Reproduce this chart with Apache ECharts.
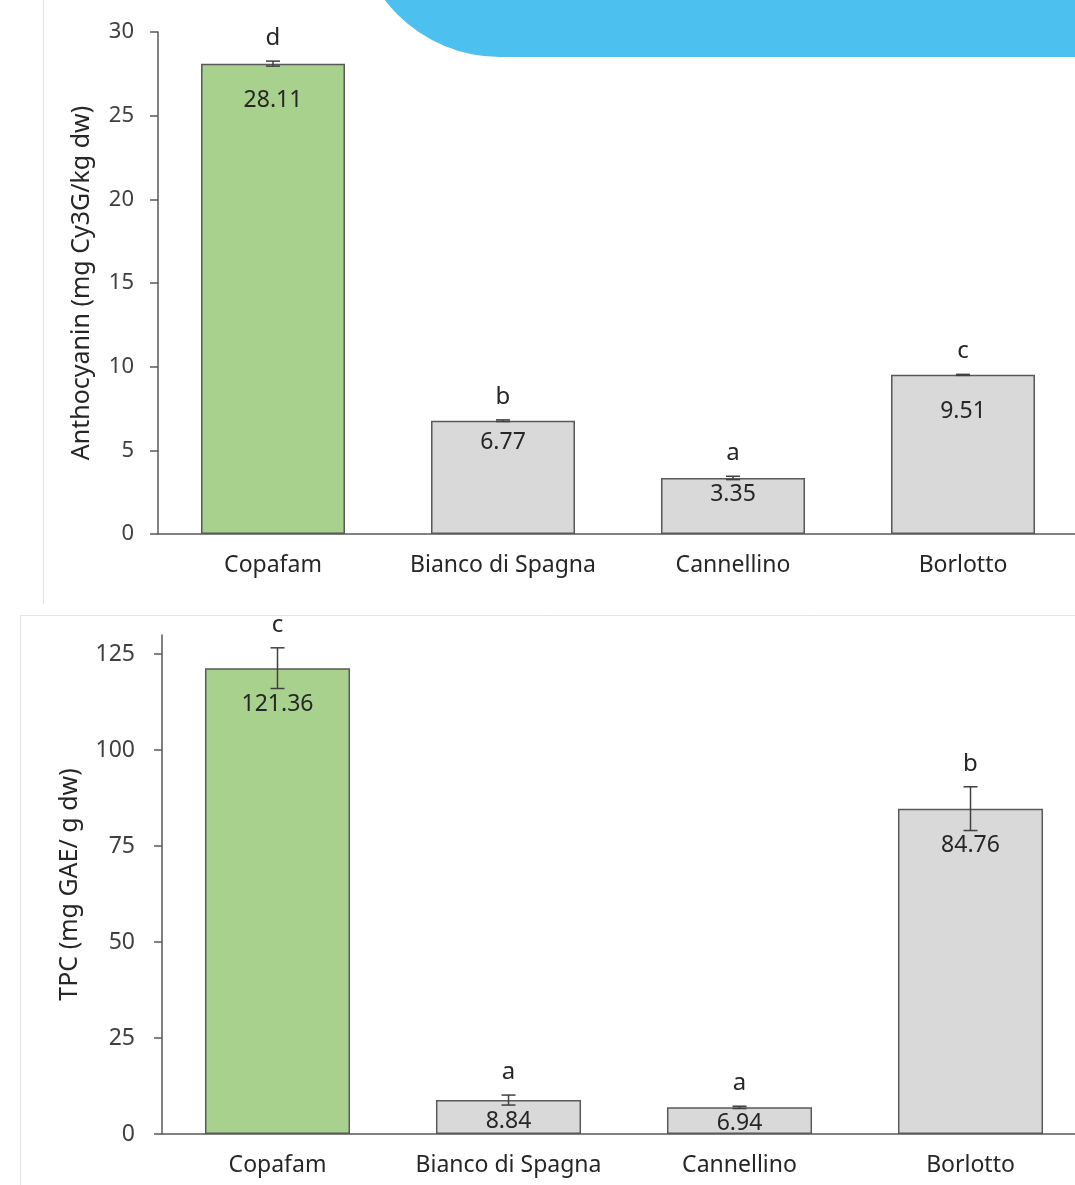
<!DOCTYPE html>
<html>
<head>
<meta charset="utf-8">
<script src="https://cdn.jsdelivr.net/npm/echarts@6/dist/echarts.min.js"></script>
<style>
  html, body { margin: 0; padding: 0; background: #fff; }
  #chart { width: 1075px; height: 1185px; }
</style>
</head>
<body>
<div id="chart"></div>
<script>
// data
var categories = ["Copafam", "Bianco di Spagna", "Cannellino", "Borlotto"];

var anthoValues = [28.11, 6.77, 3.35, 9.51];
var anthoErrors = [0.15, 0.05, 0.1, 0.03];
var anthoLetters = ["d", "b", "a", "c"];

var tpcValues = [121.36, 8.84, 6.94, 84.76];
var tpcErrors = [5.3, 1.3, 0.3, 5.7];
var tpcLetters = ["c", "a", "a", "b"];

var anthoTicks = [0, 5, 10, 15, 20, 25, 30];
var tpcTicks = [0, 25, 50, 75, 100, 125];

// styling (gap of the value label under the bar top)
var labelGap = [25, 10, 5, 25];
var green = "#a9d18e";
var grey = "#d9d9d9";
var edge = "#595959";
var font = "Noto Sans";

var chart = echarts.init(document.getElementById("chart"));

function barData(values) {
  return values.map(function (v, i) {
    return {
      value: v,
      itemStyle: { color: i === 0 ? green : grey },
      label: { distance: labelGap[i] }
    };
  });
}

function errData(values, errors) {
  return values.map(function (v, i) {
    return [i, v, errors[i]];
  });
}

// error bar + significance letter
function renderErr(params, api) {
  var i = api.value(0);
  var v = api.value(1);
  var e = api.value(2);
  var hi = api.coord([i, v + e]);
  var lo = api.coord([i, v - e]);
  var cap = 7;
  var letters = params.seriesIndex === 1 ? anthoLetters : tpcLetters;
  var line = { stroke: "#404040", lineWidth: 1.5 };
  return {
    type: "group",
    children: [
      { type: "line", shape: { x1: hi[0], y1: hi[1], x2: lo[0], y2: lo[1] }, style: line },
      { type: "line", shape: { x1: hi[0] - cap, y1: hi[1], x2: hi[0] + cap, y2: hi[1] }, style: line },
      { type: "line", shape: { x1: lo[0] - cap, y1: lo[1], x2: lo[0] + cap, y2: lo[1] }, style: line },
      {
        type: "text",
        style: {
          x: hi[0], y: hi[1] - 23,
          text: letters[params.dataIndex],
          fill: "#262626", font: "24px '" + font + "'",
          align: "center", verticalAlign: "middle"
        }
      }
    ]
  };
}

function yAxisBase(gridIndex, name, gap, ticks, max, labelSize, margin) {
  return {
    type: "value",
    gridIndex: gridIndex,
    min: 0,
    max: max,
    name: name,
    nameLocation: "middle",
    nameGap: gap,
    nameTextStyle: { color: "#262626", fontSize: 25, fontFamily: font },
    splitLine: { show: false },
    axisLine: { show: true, lineStyle: { color: edge, width: 1.5 } },
    axisTick: { show: true, length: 8, customValues: ticks, lineStyle: { color: edge, width: 1.5 } },
    axisLabel: { customValues: ticks, margin: margin, color: "#404040", fontSize: labelSize, fontFamily: font }
  };
}

function xAxisBase(gridIndex) {
  return {
    type: "category",
    gridIndex: gridIndex,
    data: categories,
    axisLine: { lineStyle: { color: edge, width: 1.5 } },
    axisTick: { show: false },
    axisLabel: { interval: 0, hideOverlap: false, margin: 20, color: "#262626", fontSize: 23, fontFamily: font }
  };
}

var barLabel = {
  show: true,
  position: "insideTop",
  color: "#262626",
  fontSize: 23,
  fontFamily: font
};

var option = {
  animation: false,
  backgroundColor: "#fff",
  grid: [
    { left: 158, top: 32, width: 920, height: 502, outerBoundsMode: "none" },
    { left: 162, top: 635, width: 924, height: 499, outerBoundsMode: "none" }
  ],
  xAxis: [xAxisBase(0), xAxisBase(1)],
  yAxis: [
    yAxisBase(0, "Anthocyanin (mg Cy3G/kg dw)", 64, anthoTicks, 30, 22, 24),
    yAxisBase(1, "TPC (mg GAE/ g dw)", 80, tpcTicks, 130, 23, 27)
  ],
  series: [
    {
      type: "bar", xAxisIndex: 0, yAxisIndex: 0, barWidth: "62.6%",
      itemStyle: { borderColor: edge, borderWidth: 1.5 },
      label: barLabel,
      data: barData(anthoValues)
    },
    {
      type: "custom", xAxisIndex: 0, yAxisIndex: 0,
      renderItem: renderErr, z: 5,
      data: errData(anthoValues, anthoErrors)
    },
    {
      type: "bar", xAxisIndex: 1, yAxisIndex: 1, barWidth: "62.8%",
      itemStyle: { borderColor: edge, borderWidth: 1.5 },
      label: barLabel,
      data: barData(tpcValues)
    },
    {
      type: "custom", xAxisIndex: 1, yAxisIndex: 1,
      renderItem: renderErr, z: 5,
      data: errData(tpcValues, tpcErrors)
    }
  ],
  graphic: [
    // panel borders
    { type: "line", shape: { x1: 43.5, y1: 0, x2: 43.5, y2: 604 }, style: { stroke: "#e4e4e4", lineWidth: 1 } },
    { type: "line", shape: { x1: 20.5, y1: 615.5, x2: 1075, y2: 615.5 }, style: { stroke: "#e4e4e4", lineWidth: 1 } },
    { type: "line", shape: { x1: 20.5, y1: 615.5, x2: 20.5, y2: 1185 }, style: { stroke: "#e4e4e4", lineWidth: 1 } },
    // blue heading shape, cut by the top edge
    { type: "rect", z: 10, shape: { x: 355, y: -300, width: 900, height: 357, r: 145 }, style: { fill: "#4cc0ef" } }
  ]
};

chart.setOption(option);
</script>
</body>
</html>
